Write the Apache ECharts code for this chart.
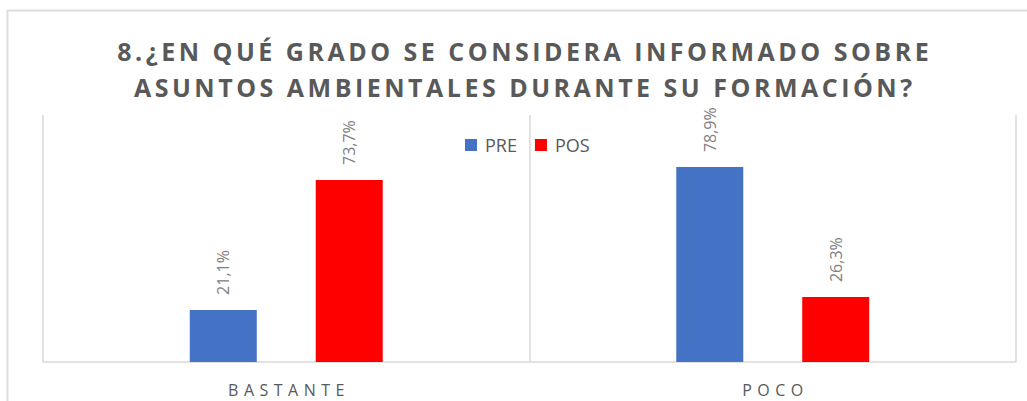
<!DOCTYPE html>
<html>
<head>
<meta charset="utf-8">
<script src="https://cdn.jsdelivr.net/npm/echarts@6/dist/echarts.min.js"></script>
<style>
  html, body { margin: 0; padding: 0; background: #ffffff; }
  #chart { width: 1027px; height: 401px; }
</style>
</head>
<body>
<div id="chart"></div>
<script>
// Survey question 8: level of environmental information, before (PRE) and after (POS)
const titleLines = [
  '8.¿EN QUÉ GRADO SE CONSIDERA INFORMADO SOBRE',
  'ASUNTOS AMBIENTALES DURANTE SU FORMACIÓN?'
];
const categories = ['BASTANTE', 'POCO'];
const seriesNames = ['PRE', 'POS'];
const preValues = [21.1, 78.9];
const posValues = [73.7, 26.3];

const FONT = "'Open Sans', 'DejaVu Sans', sans-serif";
const pct = v => v.toFixed(1).replace('.', ',') + '%';

const labelStyle = {
  show: true,
  position: 'top',
  rotate: 90,
  align: 'left',
  verticalAlign: 'middle',
  distance: 15,
  fontFamily: FONT,
  fontSize: 16,
  color: '#808080',
  formatter: p => pct(p.value)
};

const chart = echarts.init(document.getElementById('chart'), null, { renderer: 'svg' });

chart.setOption({
  animation: false,
  backgroundColor: '#ffffff',
  title: {
    text: titleLines.join('\n'),
    left: 523,
    top: 33,
    padding: 0,
    textAlign: 'center',
    textStyle: {
      fontFamily: FONT,
      fontSize: 25,
      fontWeight: 'bold',
      color: '#595959',
      lineHeight: 36
    }
  },
  legend: {
    data: seriesNames,
    left: 465,
    top: 136,
    padding: 0,
    icon: 'rect',
    itemWidth: 12,
    itemHeight: 12,
    itemGap: 18,
    textStyle: {
      fontFamily: FONT,
      fontSize: 18,
      lineHeight: 18,
      color: '#595959',
      padding: [0, 0, 0, 3]
    }
  },
  graphic: [{
    type: 'rect',
    silent: true,
    shape: { x: 7.5, y: 10.5, width: 1100, height: 500 },
    style: { fill: 'none', stroke: '#dcdcdc', lineWidth: 2 }
  }],
  grid: { left: 43, right: 11, top: 115, bottom: 39 },
  xAxis: {
    type: 'category',
    data: categories,
    axisTick: { show: false },
    axisLine: { lineStyle: { color: '#d9d9d9', width: 1.5 } },
    splitLine: { show: true, lineStyle: { color: '#d9d9d9', width: 1.5 } },
    axisLabel: {
      margin: 20,
      fontFamily: FONT,
      fontSize: 16,
      color: '#595959'
    }
  },
  yAxis: {
    type: 'value',
    min: 0,
    max: 100,
    show: false,
    splitLine: { show: false }
  },
  series: [
    {
      name: seriesNames[0],
      type: 'bar',
      data: preValues,
      barWidth: 67,
      barGap: '88%',
      itemStyle: { color: '#4472C4' },
      label: labelStyle
    },
    {
      name: seriesNames[1],
      type: 'bar',
      data: posValues,
      barWidth: 67,
      itemStyle: { color: '#FF0000' },
      label: labelStyle
    }
  ]
});

// Tracked lettering for the title and the category names
function spaceOut() {
  const spacing = {};
  categories.forEach(c => { spacing[c] = 5.5; });
  titleLines.forEach(t => { spacing[t] = 3.5; });
  document.querySelectorAll('#chart text').forEach(el => {
    const ls = spacing[el.textContent];
    if (ls !== undefined) {
      el.style.letterSpacing = ls + 'px';
      el.setAttribute('dx', ls / 2);
    }
  });
}
chart.on('finished', spaceOut);
spaceOut();
setTimeout(spaceOut, 50);
</script>
</body>
</html>
